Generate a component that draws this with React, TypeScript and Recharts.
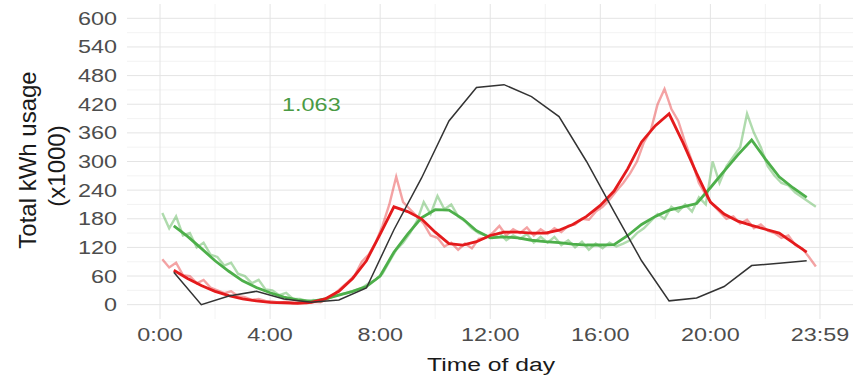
import { CartesianGrid, Line, LineChart, ReferenceDot, XAxis, YAxis } from "recharts";

// x values are minutes after midnight
const xTicks = [0, 240, 480, 720, 960, 1200, 1439];
const xTickLabels = ["0:00", "4:00", "8:00", "12:00", "16:00", "20:00", "23:59"];
const xMinor = [120, 360, 600, 840, 1080, 1320];
const yTicks = [0, 60, 120, 180, 240, 300, 360, 420, 480, 540, 600];
const yMinor = [30, 90, 150, 210, 270, 330, 390, 450, 510, 570];

// black reference curve, hourly at half past
const solarTimes = [30, 90, 150, 210, 270, 330, 390, 450, 510, 570, 630, 690, 750, 810, 870, 930, 990, 1050, 1110, 1170, 1230, 1290, 1350, 1410];
const solarValues = [68, 0, 18, 28, 12, 5, 10, 35, 157, 265, 385, 455, 461, 436, 394, 300, 195, 92, 8, 14, 38, 82, 87, 92];

// smoothed curves, every 30 min from 0:30 to 23:30
const smoothTimes = [30, 60, 90, 120, 150, 180, 210, 240, 270, 300, 330, 360, 390, 420, 450, 480, 510, 540, 570, 600, 630, 660, 690, 720, 750, 780, 810, 840, 870, 900, 930, 960, 990, 1020, 1050, 1080, 1110, 1140, 1170, 1200, 1230, 1260, 1290, 1320, 1350, 1380, 1410];
const redSmooth = [
  72, 55, 40, 28, 19, 12, 8, 5, 4, 3,
  5, 12, 28, 55, 92, 148, 205, 195, 180, 152,
  128, 125, 132, 145, 152, 152, 150, 150, 156, 168,
  185, 208, 238, 285, 341, 375, 400, 340, 275, 215,
  190, 175, 166, 158, 150, 130, 110,
];
const greenSmooth = [
  165, 143, 118, 92, 70, 50, 36, 25, 16, 10,
  7, 12, 20, 28, 38, 60, 110, 148, 182, 199,
  198, 180, 155, 140, 142, 140, 135, 132, 130, 127,
  125, 125, 126, 145, 168, 185, 198, 205, 212, 245,
  280, 314, 345, 305, 268, 245, 225,
];

// raw (noisy) readings, every 15 min starting 0:05
const NOISE_START = 5;
const NOISE_STEP = 15;
const redRaw = [
  95, 78, 88, 62, 60, 45, 52, 36, 30, 24, 28, 18, 16, 10, 12, 8,
  7, 4, 6, 3, 4, 3, 6, 5, 12, 22, 35, 48, 62, 90, 105, 130,
  165, 210, 268, 215, 200, 185, 170, 145, 140, 122, 130, 115, 128, 118, 138, 140,
  150, 165, 145, 158, 150, 162, 145, 158, 148, 160, 152, 165, 168, 180, 178, 195,
  205, 220, 238, 255, 275, 300, 340, 365, 420, 452, 410, 385, 340, 300, 255, 230,
  210, 195, 180, 185, 170, 178, 160, 168, 155, 150, 140, 145, 125, 118, 100, 80,
];
const greenRaw = [
  192, 160, 185, 145, 150, 120, 130, 105, 100, 82, 88, 65, 60, 45, 52, 32,
  30, 20, 25, 12, 12, 8, 10, 6, 12, 18, 22, 25, 30, 35, 45, 52,
  65, 90, 115, 130, 150, 175, 215, 190, 228, 200, 210, 185, 175, 160, 150, 145,
  140, 150, 135, 145, 138, 148, 130, 142, 130, 142, 125, 135, 120, 132, 115, 128,
  118, 130, 122, 128, 135, 150, 160, 175, 190, 180, 205, 195, 210, 195, 225, 210,
  300, 255, 290, 310, 330, 400, 360, 330, 290, 270, 255, 250, 235, 225, 215, 205,
];

const annotationText = "1.063";
const annotationAt = { t: 330, v: 420 };

const pairs = (times: number[], values: number[]) => values.map((v, i) => ({ t: times[i], v }));
const rawPairs = (values: number[]) => values.map((v, i) => ({ t: NOISE_START + i * NOISE_STEP, v }));

const FONT = '"Liberation Sans", Arial, Helvetica, sans-serif';
const RED = "#e41a1c";
const GREEN = "#4daf4a";

function XTick({ x, y, payload }: any) {
  const label = xTickLabels[xTicks.indexOf(payload.value)];
  return (
    <g transform={`translate(${x},${y})`}>
      <text transform="scale(1.3,1)" y={22} textAnchor="middle" fontSize={18} fill="#4d4d4d" fontFamily={FONT}>
        {label}
      </text>
    </g>
  );
}

function YTick({ x, y, payload }: any) {
  return (
    <g transform={`translate(${x - 10},${y})`}>
      <text transform="scale(1.3,1)" y={6.5} textAnchor="end" fontSize={18} fill="#4d4d4d" fontFamily={FONT}>
        {payload.value}
      </text>
    </g>
  );
}

export default function App() {
  return (
    <div style={{ position: "relative", width: 857, height: 379, background: "#fff" }}>
      <style>{`body{margin:0}`}</style>
      <LineChart width={857} height={379} margin={{ top: 4, right: 4, left: 0, bottom: 0 }}>
        <CartesianGrid stroke="#f0f0f0" strokeWidth={0.8} horizontalValues={yMinor} verticalValues={xMinor} />
        <CartesianGrid stroke="#e4e4e4" strokeWidth={1} horizontalValues={yTicks} verticalValues={xTicks} />
        <XAxis
          type="number"
          dataKey="t"
          domain={[-72, 1511]}
          ticks={xTicks}
          tick={<XTick />}
          axisLine={false}
          tickLine={false}
          tickSize={0}
          tickMargin={0}
          height={60}
          allowDataOverflow
        />
        <YAxis
          type="number"
          domain={[-30, 630]}
          ticks={yTicks}
          tick={<YTick />}
          axisLine={false}
          tickLine={false}
          tickSize={0}
          tickMargin={0}
          width={127}
          allowDataOverflow
        />
        <Line data={rawPairs(greenRaw)} dataKey="v" type="linear" stroke={GREEN} strokeOpacity={0.45} strokeWidth={2.4} dot={false} isAnimationActive={false} />
        <Line data={rawPairs(redRaw)} dataKey="v" type="linear" stroke={RED} strokeOpacity={0.4} strokeWidth={2.4} dot={false} isAnimationActive={false} />
        <Line data={pairs(smoothTimes, greenSmooth)} dataKey="v" type="linear" stroke={GREEN} strokeWidth={2.8} dot={false} isAnimationActive={false} />
        <Line data={pairs(smoothTimes, redSmooth)} dataKey="v" type="linear" stroke={RED} strokeWidth={2.8} dot={false} isAnimationActive={false} />
        <Line data={pairs(solarTimes, solarValues)} dataKey="v" type="linear" stroke="#333333" strokeWidth={1.5} dot={false} isAnimationActive={false} />
        <ReferenceDot
          x={annotationAt.t}
          y={annotationAt.v}
          r={0}
          shape={(p: any) => (
            <g transform={`translate(${p.cx},${p.cy})`}>
              <text transform="scale(1.3,1)" y={6.5} textAnchor="middle" fontSize={18} fill="#4a9a44" fontFamily={FONT}>
                {annotationText}
              </text>
            </g>
          )}
        />
      </LineChart>
      <svg width={857} height={379} style={{ position: "absolute", left: 0, top: 0, pointerEvents: "none" }}>
        <text x={491} y={371} textAnchor="middle" fontSize={19} fill="#1a1a1a" fontFamily={FONT} transform="translate(491,0) scale(1.3,1) translate(-491,0)">
          Time of day
        </text>
        <g transform="translate(36,160) rotate(-90)">
          <text textAnchor="middle" fontSize={24} fill="#1a1a1a" fontFamily={FONT}>Total kWh usage</text>
        </g>
        <g transform="translate(65,166) rotate(-90)">
          <text textAnchor="middle" fontSize={24} fill="#1a1a1a" fontFamily={FONT}>(x1000)</text>
        </g>
      </svg>
    </div>
  );
}
